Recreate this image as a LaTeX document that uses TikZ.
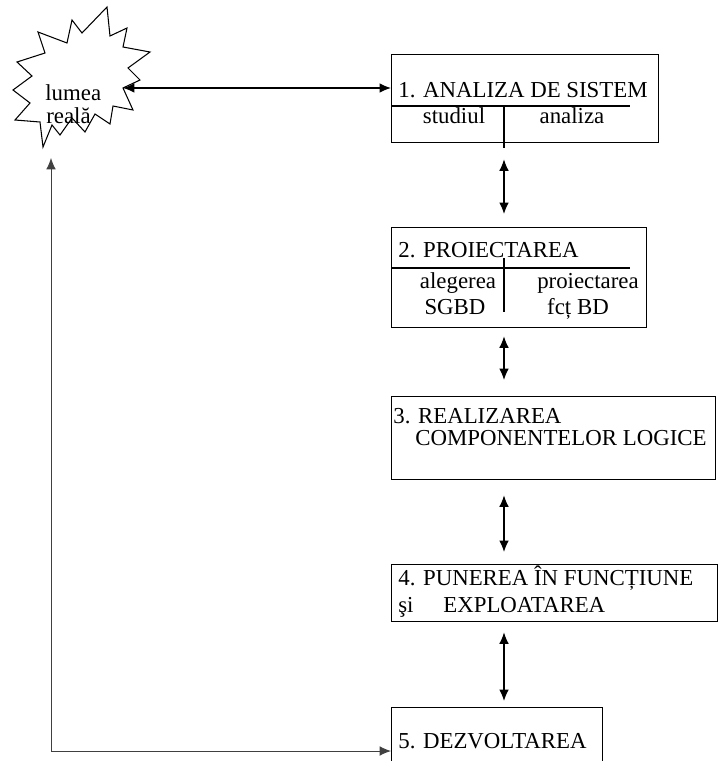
\documentclass[tikz,border=0pt]{standalone}
\usepackage{fontspec}
\setmainfont{Liberation Serif}
\usetikzlibrary{arrows.meta,positioning,calc}

\begin{document}
\begin{tikzpicture}[x=0.02cm, y=-0.02cm,
  box/.style={draw, line width=0.8pt, inner sep=0pt, anchor=north west},
  lbl/.style={anchor=base west, inner sep=0pt, font=\fontsize{13}{15}\selectfont},
  sub/.style={anchor=base, inner sep=0pt, font=\fontsize{13}{15}\selectfont},
  dbl/.style={{Latex[length=6.5pt,width=5.5pt]}-{Latex[length=6.5pt,width=5.5pt]}, line width=0.7pt},
  sep/.style={line width=0.6pt}]
  \clip (0,0) rectangle (720,761);

  % star (real world)
  \draw[line width=0.6pt] (107,7) -- (110,36) -- (127,28) -- (123,47) -- (150,52)
    -- (128,68) -- (140,80) -- (123,88) -- (133,110) -- (113,106) -- (110,124)
    -- (95,114) -- (85,132) -- (72,118) -- (60,135) -- (52,125) -- (43,147)
    -- (40,122) -- (15,120) -- (30,103) -- (13,90) -- (32,76) -- (17,62)
    -- (45,53) -- (38,32) -- (67,43) -- (72,20) -- (82,33) -- cycle;
  \coordinate (sp) at (123,88);
  \coordinate (sb) at (51,158);
  \node[lbl] (lum) at (45,100) {lumea};
  \node[lbl] (rea) at (46,123) {reală};

  % Boxes
  \node[box, minimum width=5.34cm, minimum height=1.76cm] (b1) at (391,54) {};
  \node[box, minimum width=5.10cm, minimum height=2.00cm] (b2) at (391,227) {};
  \node[box, minimum width=6.48cm, minimum height=1.66cm] (b3) at (391,396) {};
  \node[box, minimum width=6.52cm, minimum height=1.14cm] (b4) at (391,564) {};
  \node[box, minimum width=4.22cm, minimum height=1.60cm] (b5) at (391,707) {};

  % 1
  \node[lbl] (t1) at (398,97) {1. ANALIZA DE SISTEM};
  \draw[sep] (391,106) -- (630,106);
  \draw[sep] (504,106) -- (504,148);
  \node[sub] (s11) at (454,123) {studiul};
  \node[sub] (s12) at (572,123) {analiza};

  % 2
  \node[lbl] (t2) at (398,257) {2. PROIECTAREA};
  \draw[sep] (391,268) -- (630,268);
  \draw[sep] (504,258) -- (504,312);
  \node[sub] (s21) at (458,288) {alegerea};
  \node[sub] (s22) at (455,314) {SGBD};
  \node[sub] (s23) at (588,288) {proiectarea};
  \node[sub] (s24) at (578,314) {fcț BD};

  % 3
  \node[lbl] (t3) at (393,423) {3. REALIZAREA};
  \node[lbl] (t3b) at (415,445) {COMPONENTELOR LOGICE};

  % 4
  \node[lbl] (t4) at (398,585) {4. PUNEREA ÎN FUNCȚIUNE};
  \node[lbl] (t4a) at (398,612) {şi};
  \node[lbl] (t4b) at (443,612) {EXPLOATAREA};

  % 5
  \node[lbl] (t5) at (398,748) {5. DEZVOLTAREA};

  % Arrows
  \coordinate (dx) at (504,0);
  \draw[dbl] (sp) -- (sp -| b1.west);
  \draw[dbl, shorten <=0.32cm, shorten >=0.26cm] (b1.south -| dx) -- (b2.north -| dx);
  \draw[dbl, shorten <=0.16cm, shorten >=0.32cm] (b2.south -| dx) -- (b3.north -| dx);
  \draw[dbl, shorten <=0.30cm, shorten >=0.24cm] (b3.south -| dx) -- (b4.north -| dx);
  \draw[dbl, shorten <=0.20cm, shorten >=0.12cm] (b4.south -| dx) -- (b5.north -| dx);
  \coordinate (fb) at (51,751);
  \draw[dbl, line width=0.5pt, black!75] (sb) -- (fb) -- (fb -| b5.west);
\end{tikzpicture}
\end{document}
